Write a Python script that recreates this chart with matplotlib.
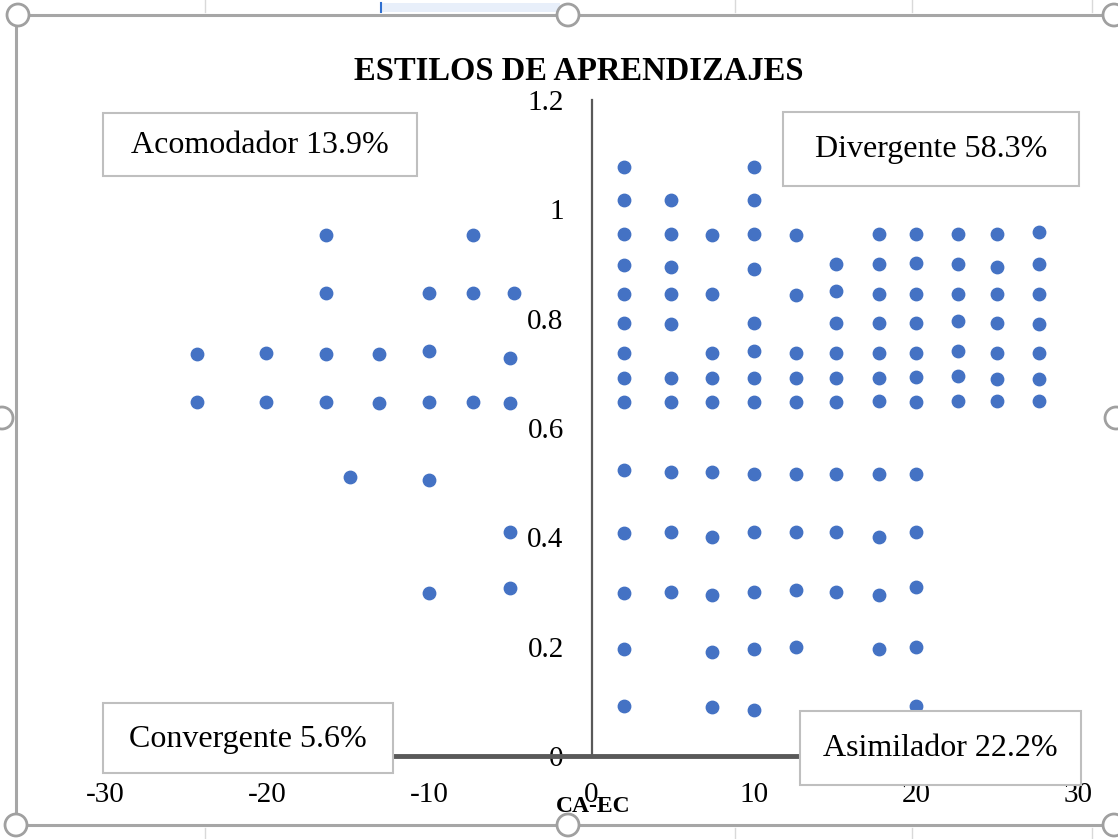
import matplotlib.pyplot as plt
from matplotlib.patches import Rectangle, Ellipse
from matplotlib.lines import Line2D

plt.rcParams['font.family'] = ['Liberation Serif', 'DejaVu Serif']
plt.rcParams['axes.unicode_minus'] = False

# CA-EC (x) and EA-OR (y) scores
ca_ec = (
    [-24.3] * 2 + [-20.1] * 2 + [-16.4] * 4 + [-14.9] + [-13.1] * 2
    + [-10.0] * 5 + [-7.3] * 3 + [-4.8] + [-5.0] * 4
    + [2.0] * 14 + [4.9] * 10 + [7.4] * 10 + [10.0] * 13 + [12.6] * 9
    + [15.1] * 9 + [17.7] * 11 + [20.0] * 12 + [22.6] * 7 + [25.0] * 7
    + [27.6] * 7
)
ea_or = [
    0.735, 0.648,
    0.737, 0.648,
    0.953, 0.847, 0.735, 0.648,
    0.510,
    0.735, 0.645,
    0.847, 0.740, 0.648, 0.505, 0.298,
    0.953, 0.847, 0.648,
    0.847,
    0.728, 0.645, 0.410, 0.307,
    1.077, 1.017, 0.955, 0.898, 0.845, 0.792, 0.737, 0.691, 0.648, 0.523, 0.408, 0.298, 0.196, 0.092,
    1.017, 0.955, 0.895, 0.845, 0.790, 0.691, 0.648, 0.520, 0.410, 0.300,
    0.953, 0.845, 0.737, 0.691, 0.648, 0.520, 0.400, 0.295, 0.190, 0.090,
    1.077, 1.017, 0.955, 0.890, 0.792, 0.740, 0.691, 0.648, 0.515, 0.410, 0.300, 0.195, 0.085,
    0.953, 0.843, 0.737, 0.691, 0.648, 0.515, 0.410, 0.303, 0.200,
    0.900, 0.850, 0.792, 0.737, 0.691, 0.648, 0.515, 0.410, 0.300,
    0.955, 0.900, 0.845, 0.792, 0.737, 0.691, 0.650, 0.515, 0.400, 0.295, 0.195,
    0.955, 0.902, 0.845, 0.792, 0.737, 0.693, 0.648, 0.515, 0.410, 0.310, 0.200, 0.092,
    0.955, 0.900, 0.845, 0.795, 0.740, 0.695, 0.650,
    0.955, 0.895, 0.845, 0.792, 0.737, 0.690, 0.650,
    0.958, 0.900, 0.845, 0.790, 0.737, 0.690, 0.650,
]

x_ticks = [-30, -20, -10, 0, 10, 20, 30]
y_ticks = [0, 0.2, 0.4, 0.6, 0.8, 1, 1.2]
y_tick_labels = ['0', '0.2', '0.4', '0.6', '0.8', '1', '1.2']

quadrant_labels = ['Acomodador 13.9%', 'Divergente 58.3%',
                   'Convergente 5.6%', 'Asimilador 22.2%']

W, H = 1118, 839
fig = plt.figure(figsize=(W / 100, H / 100), dpi=100)


def fx(x):
    return x / W


def fy(y):
    return 1 - y / H


ax = fig.add_axes([fx(105), fy(756), (1078 - 105) / W, (756 - 100) / H])
ax.scatter(ca_ec, ea_or, s=80, color='#4472C4', zorder=3, clip_on=False)

ax.set_xlim(-30, 30)
ax.set_ylim(0, 1.2)
ax.set_xticks(x_ticks)
ax.set_yticks(y_ticks)
ax.set_yticklabels(y_tick_labels)
ax.spines['left'].set_position(('data', 0))
ax.spines['bottom'].set_position(('data', 0))
ax.spines['top'].set_visible(False)
ax.spines['right'].set_visible(False)
ax.spines['left'].set_color('#595959')
ax.spines['left'].set_linewidth(1.6)
ax.spines['bottom'].set_color('#595959')
ax.spines['bottom'].set_linewidth(3.5)
ax.tick_params(axis='x', length=0, pad=19, labelsize=21)
ax.tick_params(axis='y', length=0, pad=20, labelsize=21)

fig.text(fx(579), fy(72), 'ESTILOS DE APRENDIZAJES', fontsize=23.5,
         fontweight='bold', ha='center', va='center')
fig.text(fx(593), fy(806), 'CA-EC', fontsize=17, fontweight='bold',
         ha='center', va='center')

# quadrant label boxes (left, top, right, bottom in pixels)
boxes = [(103, 113, 417, 176), (783, 112, 1079, 186),
         (103, 703, 393, 773), (800, 711, 1081, 785)]
for (l, t, r, b), lab in zip(boxes, quadrant_labels):
    fig.add_artist(Rectangle((fx(l), fy(b)), (r - l) / W, (b - t) / H,
                             transform=fig.transFigure, facecolor='white',
                             edgecolor='#BFBFBF', linewidth=1.5, zorder=4))
    fig.text(fx((l + r) / 2), fy((t + b) / 2 + 1), lab, fontsize=23,
             ha='center', va='center', zorder=5)

# chart frame and selection handles
frame = '#A6A6A6'
for xs, ys in [((18, 1118), (15, 15)), ((16, 16), (15, 825)),
               ((16, 1118), (825, 825))]:
    fig.add_artist(Line2D([fx(v) for v in xs], [fy(v) for v in ys],
                          transform=fig.transFigure, color=frame, lw=2.2))
for gx in [205, 735, 912, 1092]:
    for y0, y1 in [(0, 12), (828, 839)]:
        fig.add_artist(Line2D([fx(gx), fx(gx)], [fy(y0), fy(y1)],
                              transform=fig.transFigure, color='#D9D9D9', lw=1))
fig.add_artist(Rectangle((fx(380), fy(12)), 180 / W, 9 / H,
                         transform=fig.transFigure, facecolor='#E8EFFA',
                         edgecolor='none'))
fig.add_artist(Line2D([fx(381), fx(381)], [fy(3), fy(12)],
                      transform=fig.transFigure, color='#2F6FD0', lw=1.5))
for hx, hy in [(18, 15), (568, 15), (1114, 15), (2, 418), (1116, 418),
               (16, 825), (568, 825), (1114, 825)]:
    fig.add_artist(Ellipse((fx(hx), fy(hy)), 22 / W, 22 / H,
                           transform=fig.transFigure, facecolor='white',
                           edgecolor='#A0A0A0', linewidth=2, zorder=6))

fig.savefig('out.png', dpi=100)
